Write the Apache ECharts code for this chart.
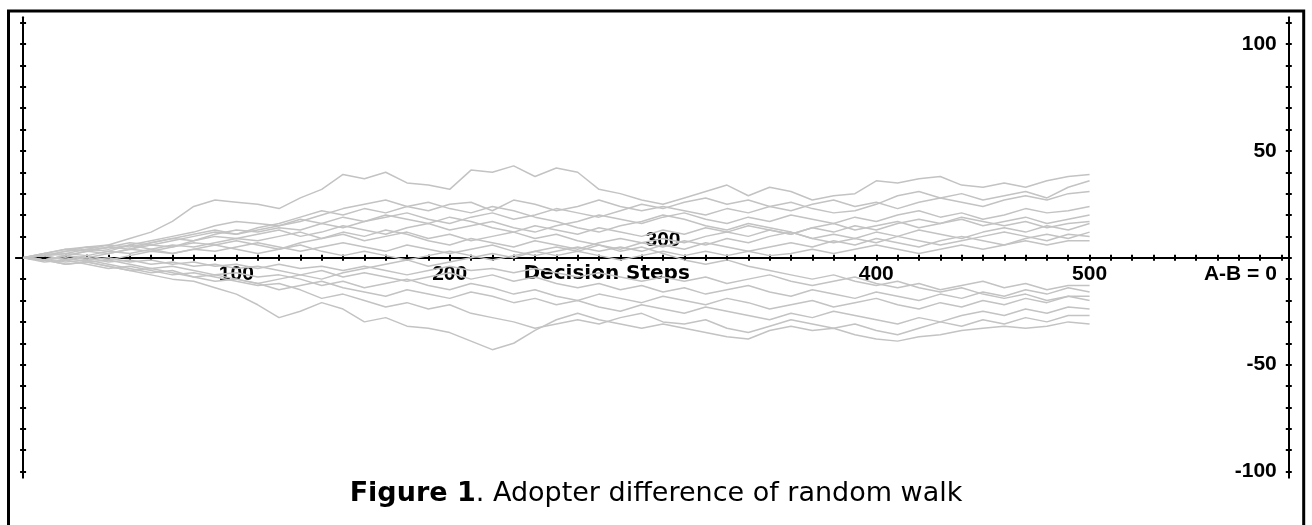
<!DOCTYPE html>
<html>
<head>
<meta charset="utf-8">
<script src="https://cdn.jsdelivr.net/npm/echarts@6/dist/echarts.min.js"></script>
<style>
html,body{margin:0;padding:0;background:#fff;}
#chart{width:1312px;height:525px;}
</style>
</head>
<body>
<div id="chart"></div>
<script>
// Decision steps sampled every 10 steps
const steps = [0,10,20,30,40,50,60,70,80,90,100,110,120,130,140,150,160,170,180,190,200,210,220,230,240,250,260,270,280,290,300,310,320,330,340,350,360,370,380,390,400,410,420,430,440,450,460,470,480,490,500];

// Adopter difference (A-B) for each random walk
const w01 = [0,2,4,5,6,9,12,17,24,27,26,25,23,28,32,39,37,40,35,34,32,41,40,43,38,42,40,32,30,27,25,28,31,34,29,33,31,27,29,30,36,35,37,38,34,33,35,33,36,38,39];
const w02 = [0,1,3,4,3,6,8,10,12,15,17,16,15,17,20,23,25,27,24,22,25,26,22,27,25,22,24,27,24,22,24,22,20,23,21,24,26,23,21,22,25,29,31,28,30,27,29,31,28,33,36];
const w03 = [0,-1,1,3,5,4,7,9,8,11,13,12,14,13,16,14,17,19,21,18,16,19,21,18,20,23,21,19,22,25,23,26,28,25,27,24,22,25,27,24,26,23,26,28,26,24,27,29,27,30,31];
const w04 = [0,2,1,3,2,4,6,5,8,10,9,11,13,10,12,15,13,11,14,16,13,15,17,14,12,15,17,20,18,16,19,21,18,16,19,17,20,18,16,19,17,20,22,19,21,18,20,23,21,22,24];
const w05 = [0,1,-1,1,3,2,4,6,5,7,9,8,10,12,9,11,8,10,12,9,11,8,10,12,15,13,11,14,12,10,13,11,14,12,15,13,11,14,16,13,15,17,14,16,18,15,17,19,16,18,20];
const w06 = [0,-1,1,0,2,4,3,5,7,6,8,6,4,7,9,12,10,13,11,8,6,9,7,5,8,6,4,7,9,7,5,8,6,9,7,10,12,9,11,9,12,10,13,11,9,12,14,12,15,13,16];
const w07 = [0,1,2,1,-1,1,3,2,4,3,5,7,5,3,5,7,5,3,6,4,2,4,6,3,1,3,5,3,5,3,6,4,7,5,3,5,7,5,8,6,9,7,5,8,10,8,6,9,11,9,12];
const w08 = [0,1,3,5,4,6,4,2,4,6,4,2,4,6,3,1,3,1,-1,1,3,1,-1,1,3,1,3,1,-1,1,3,1,3,1,3,1,2,4,2,4,6,4,2,4,6,4,6,8,6,8,8];
const w09 = [0,-1,-3,-2,-4,-6,-8,-10,-11,-14,-17,-22,-28,-25,-21,-24,-30,-28,-32,-33,-35,-39,-43,-40,-34,-29,-26,-29,-31,-33,-31,-33,-35,-37,-38,-34,-32,-34,-33,-36,-38,-39,-37,-36,-34,-33,-32,-33,-32,-30,-31];
const w10 = [0,-2,-1,-3,-5,-4,-6,-8,-7,-9,-11,-13,-12,-15,-19,-17,-20,-23,-21,-24,-22,-26,-28,-30,-33,-31,-29,-31,-28,-26,-30,-31,-29,-33,-35,-32,-29,-31,-33,-31,-34,-36,-33,-30,-32,-29,-31,-28,-30,-27,-27];
const w11 = [0,-1,-2,-1,-3,-5,-7,-6,-9,-11,-10,-12,-15,-13,-11,-14,-16,-18,-15,-17,-19,-16,-18,-21,-19,-22,-20,-23,-25,-22,-24,-26,-23,-25,-27,-29,-26,-28,-25,-27,-29,-31,-28,-30,-27,-25,-27,-24,-26,-23,-24];
const w12 = [0,-1,0,-2,-1,-3,-5,-4,-6,-8,-7,-9,-8,-10,-13,-11,-14,-12,-10,-13,-15,-12,-14,-17,-15,-18,-20,-17,-19,-21,-18,-20,-22,-19,-21,-24,-22,-20,-23,-21,-19,-22,-24,-21,-23,-20,-22,-19,-21,-18,-20];
const w13 = [0,1,-1,0,-2,-1,-3,-2,-4,-3,-5,-4,-6,-8,-6,-9,-7,-9,-11,-9,-7,-10,-8,-11,-9,-12,-14,-12,-15,-13,-16,-14,-17,-15,-13,-16,-18,-15,-17,-19,-16,-18,-20,-17,-19,-16,-18,-15,-17,-14,-16];
const w14 = [0,-1,1,-1,0,-2,-1,-3,-2,-4,-3,-5,-3,-5,-4,-6,-4,-6,-8,-6,-4,-6,-5,-7,-5,-7,-9,-7,-9,-11,-9,-11,-9,-12,-10,-8,-11,-13,-11,-9,-12,-14,-12,-15,-13,-11,-14,-12,-15,-13,-13];
const w15 = [0,2,4,3,5,7,6,8,10,12,11,13,15,18,16,19,17,20,18,16,19,17,14,12,9,11,8,6,3,5,2,-1,-3,-1,-4,-6,-8,-10,-8,-11,-13,-11,-14,-16,-14,-17,-19,-17,-20,-18,-18];
const w16 = [0,-1,-3,-2,-4,-6,-5,-7,-9,-8,-10,-12,-10,-8,-10,-7,-5,-3,-1,-4,-2,0,2,0,3,5,3,6,4,7,9,7,10,12,10,13,11,14,12,15,13,16,18,16,19,17,15,17,14,16,17];
const w17 = [0,1,2,4,6,5,7,9,11,13,11,14,16,19,22,20,23,21,24,26,23,21,24,22,19,17,14,12,15,17,20,18,15,13,16,14,12,9,7,9,7,10,8,6,8,10,12,10,8,11,10];

const walks = [w01,w02,w03,w04,w05,w06,w07,w08,w09,w10,w11,w12,w13,w14,w15,w16,w17];

// Tick values and label texts
const xTickValues = [0,10,20,30,40,50,60,70,80,90,100,110,120,130,140,150,160,170,180,190,200,210,220,230,240,250,260,270,280,290,300,310,320,330,340,350,360,370,380,390,400,410,420,430,440,450,460,470,480,490,500,510,520,530,540,550,560,570,580,590];
const xLabelsBelow = [100,200,400,500];
const xLabelsAbove = [300];
const xAxisTitle = 'Decision Steps';
const zeroLabel = 'A-B = 0';
const yTickValues = [-100,-90,-80,-70,-60,-50,-40,-30,-20,-10,0,10,20,30,40,50,60,70,80,90,100,110];
const yLabels = [100,50,-50,-100];
const captionBold = 'Figure 1';
const captionRest = '. Adopter difference of random walk';

const X_MIN = -3.3, X_MAX = 593.4, Y_MIN = -102.8, Y_MAX = 112.4;
const TITLE_POS = 273.6, ZERO_POS = 570.7;

// grid geometry
const G_LEFT = 16.04, G_RIGHT_X = 1288.8, G_TOP = 17.5, G_BOTTOM_Y = 477.5;
const zeroY = G_TOP + (Y_MAX / (Y_MAX - Y_MIN)) * (G_BOTTOM_Y - G_TOP);
const zeroX = G_LEFT + ((0 - X_MIN) / (X_MAX - X_MIN)) * (G_RIGHT_X - G_LEFT);

const numFont = {fontFamily:'Liberation Sans', fontWeight:'bold', fontSize:21, color:'#000'};
const axisLineStyle = {color:'#000', width:2};
const tickStyle = {color:'#000', width:2};

function xLabelFmt(v){
  if (Math.abs(v - TITLE_POS) < 0.5) return '{t|' + xAxisTitle + '}';
  if (Math.abs(v - ZERO_POS) < 0.5) return '{n|' + zeroLabel + '}';
  return '{n|' + Math.round(v) + '}';
}

const series = walks.map((w, i) => ({
  type:'line',
  name:'walk' + (i+1),
  xAxisIndex:0, yAxisIndex:0,
  data: steps.map((s, k) => [s, w[k]]),
  showSymbol:false,
  symbol:'none',
  silent:true,
  lineStyle:{color:'#c3c3c3', width:1.5},
  z:1
}));

const chart = echarts.init(document.getElementById('chart'), null, {renderer:'canvas'});
chart.setOption({
  animation:false,
  backgroundColor:'#fff',
  title:{
    left:'center', top:475,
    text:'{b|' + captionBold + '}{r|' + captionRest + '}',
    textStyle:{
      rich:{
        b:{fontFamily:'DejaVu Sans', fontWeight:'bold', fontSize:27, color:'#000'},
        r:{fontFamily:'DejaVu Sans', fontWeight:'normal', fontSize:27, color:'#000'}
      }
    }
  },
  graphic:[{
    type:'polyline', silent:true,
    shape:{points:[[8.5,525],[8.5,11],[1303.7,11],[1303.7,525]]},
    style:{stroke:'#000', lineWidth:3, fill:null}
  }],
  grid:{left:G_LEFT, right:1312-G_RIGHT_X, top:G_TOP, bottom:525-G_BOTTOM_Y, outerBoundsMode:'none', containLabel:false},
  xAxis:[
    {
      type:'value', position:'bottom', min:X_MIN, max:X_MAX, offset:-(G_BOTTOM_Y - zeroY),
      axisLine:{show:true, onZero:false, lineStyle:axisLineStyle},
      axisTick:{show:true, customValues:xTickValues, length:3, inside:false, lineStyle:tickStyle},
      axisLabel:{show:true, customValues:xLabelsBelow.concat([TITLE_POS, ZERO_POS]), margin:6, formatter:xLabelFmt,
        rich:{
          n:numFont,
          t:{fontFamily:'DejaVu Sans', fontWeight:'bold', fontSize:20, color:'#000'}
        }},
      splitLine:{show:false}
    },
    {
      type:'value', position:'top', min:X_MIN, max:X_MAX, offset:-(zeroY - G_TOP),
      axisLine:{show:true, onZero:false, lineStyle:axisLineStyle},
      axisTick:{show:true, customValues:xTickValues, length:3, inside:false, lineStyle:tickStyle},
      axisLabel:Object.assign({show:true, customValues:xLabelsAbove, margin:7, formatter:v => String(Math.round(v))}, numFont),
      splitLine:{show:false}
    }
  ],
  yAxis:[
    {
      type:'value', position:'left', min:Y_MIN, max:Y_MAX, offset:-(zeroX - G_LEFT),
      axisLine:{show:true, onZero:false, lineStyle:axisLineStyle},
      axisTick:{show:true, customValues:yTickValues, length:3, inside:false, lineStyle:tickStyle},
      axisLabel:{show:false}, splitLine:{show:false}
    },
    {
      type:'value', position:'left', min:Y_MIN, max:Y_MAX, offset:-(zeroX - G_LEFT),
      axisLine:{show:true, onZero:false, lineStyle:axisLineStyle},
      axisTick:{show:true, customValues:yTickValues, length:3, inside:true, lineStyle:tickStyle},
      axisLabel:{show:false}, splitLine:{show:false}
    },
    {
      type:'value', position:'right', min:Y_MIN, max:Y_MAX, offset:0,
      axisLine:{show:true, onZero:false, lineStyle:axisLineStyle},
      axisTick:{show:true, customValues:yTickValues, length:3, inside:false, lineStyle:tickStyle},
      axisLabel:Object.assign({show:true, customValues:yLabels, inside:true, margin:12, formatter:v => String(Math.round(v))}, numFont),
      splitLine:{show:false}
    },
    {
      type:'value', position:'right', min:Y_MIN, max:Y_MAX, offset:0,
      axisLine:{show:true, onZero:false, lineStyle:axisLineStyle},
      axisTick:{show:true, customValues:yTickValues, length:3, inside:true, lineStyle:tickStyle},
      axisLabel:{show:false}, splitLine:{show:false}
    }
  ],
  series: series
});
</script>
</body>
</html>
